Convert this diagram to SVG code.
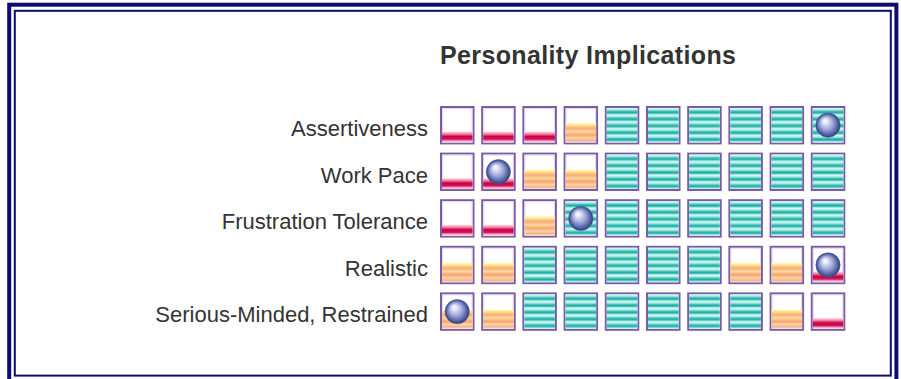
<svg xmlns="http://www.w3.org/2000/svg" xmlns:xlink="http://www.w3.org/1999/xlink" width="901" height="379" viewBox="0 0 901 379">
<style>
.lbl{font-family:"Liberation Sans",Arial,sans-serif;font-size:22px;fill:#333;text-anchor:end}
.ttl{font-family:"Liberation Sans",Arial,sans-serif;font-size:25px;font-weight:bold;fill:#333}
.frm{fill:none;stroke:#0c0c72}
</style>
<defs>
<linearGradient id="gR" x1="0" y1="0" x2="0" y2="1">
<stop offset="0" stop-color="#fde4ea"/><stop offset="0.25" stop-color="#f07898"/><stop offset="0.45" stop-color="#c8004c"/><stop offset="0.7" stop-color="#d01458"/><stop offset="0.85" stop-color="#f4a0b8"/><stop offset="1" stop-color="#fbe0e8"/>
</linearGradient>
<linearGradient id="gO" x1="0" y1="0" x2="0" y2="1">
<stop offset="0" stop-color="#fffad0"/><stop offset="0.1" stop-color="#ffe88a"/><stop offset="0.28" stop-color="#f8ac7c"/><stop offset="0.45" stop-color="#fcd89c"/><stop offset="0.62" stop-color="#f6a474"/><stop offset="0.78" stop-color="#fcd8a0"/><stop offset="0.9" stop-color="#f6b088"/><stop offset="1" stop-color="#f8e4dc"/>
</linearGradient>
<linearGradient id="gTs" x1="0" y1="0" x2="0" y2="1">
<stop offset="0" stop-color="#e6fffb"/><stop offset="0.3" stop-color="#9ae6de"/><stop offset="0.6" stop-color="#10a89e"/><stop offset="0.85" stop-color="#5ccac2"/><stop offset="1" stop-color="#e6fffb"/>
</linearGradient>
<pattern id="pT" patternUnits="userSpaceOnUse" x="0" y="2" width="34" height="6.8">
<rect width="34" height="6.8" fill="url(#gTs)"/>
</pattern>
<radialGradient id="gB" cx="0.5" cy="0.5" r="0.5" fx="0.36" fy="0.3">
<stop offset="0" stop-color="#ffffff"/><stop offset="0.18" stop-color="#e6eaf8"/><stop offset="0.55" stop-color="#9aa4d6"/><stop offset="0.88" stop-color="#4a5898"/><stop offset="1" stop-color="#2e3a78"/>
</radialGradient>
<symbol id="box" overflow="visible">
<rect x="1" y="1" width="32.5" height="36.4" fill="#fff" stroke="#7b5aa8" stroke-width="2"/>
<rect x="2.5" y="2.5" width="29.5" height="33.4" fill="none" stroke="#e2d8f0" stroke-width="1"/>
</symbol>
<symbol id="cR" overflow="visible">
<use xlink:href="#box"/>
<rect x="2" y="25.5" width="30.5" height="11" fill="url(#gR)"/>
</symbol>
<symbol id="cO" overflow="visible">
<use xlink:href="#box"/>
<rect x="2" y="17" width="30.5" height="19.4" fill="url(#gO)"/>
</symbol>
<symbol id="cT" overflow="visible">
<use xlink:href="#box"/>
<rect x="2" y="2" width="30.5" height="34.4" fill="url(#pT)"/>
</symbol>
<symbol id="ball" overflow="visible">
<circle cx="17.2" cy="19.2" r="12.2" fill="url(#gB)" stroke="#3a62b8" stroke-width="0.8" stroke-opacity="0.6"/>
</symbol>
</defs>

<g id="frame">
<rect class="frm" x="9.2" y="4.7" width="887.2" height="390" stroke-width="4"/>
<rect class="frm" x="14.8" y="10.8" width="876" height="364.8" stroke-width="2"/>
</g>

<text id="title" class="ttl" x="440" y="64" textLength="296" lengthAdjust="spacing">Personality Implications</text>

<g id="row-assertiveness" transform="translate(440,106)">
<text class="lbl" x="-12" y="30">Assertiveness</text>
<use xlink:href="#cR" x="0"/><use xlink:href="#cR" x="41.2"/><use xlink:href="#cR" x="82.4"/><use xlink:href="#cO" x="123.6"/><use xlink:href="#cT" x="164.8"/><use xlink:href="#cT" x="206"/><use xlink:href="#cT" x="247.2"/><use xlink:href="#cT" x="288.4"/><use xlink:href="#cT" x="329.6"/><use xlink:href="#cT" x="370.8"/>
<use xlink:href="#ball" x="370.8"/>
</g>

<g id="row-workpace" transform="translate(440,152.6)">
<text class="lbl" x="-12" y="30">Work Pace</text>
<use xlink:href="#cR" x="0"/><use xlink:href="#cR" x="41.2"/><use xlink:href="#cO" x="82.4"/><use xlink:href="#cO" x="123.6"/><use xlink:href="#cT" x="164.8"/><use xlink:href="#cT" x="206"/><use xlink:href="#cT" x="247.2"/><use xlink:href="#cT" x="288.4"/><use xlink:href="#cT" x="329.6"/><use xlink:href="#cT" x="370.8"/>
<use xlink:href="#ball" x="41.2"/>
</g>

<g id="row-frustration" transform="translate(440,199.2)">
<text class="lbl" x="-12" y="30">Frustration Tolerance</text>
<use xlink:href="#cR" x="0"/><use xlink:href="#cR" x="41.2"/><use xlink:href="#cO" x="82.4"/><use xlink:href="#cT" x="123.6"/><use xlink:href="#cT" x="164.8"/><use xlink:href="#cT" x="206"/><use xlink:href="#cT" x="247.2"/><use xlink:href="#cT" x="288.4"/><use xlink:href="#cT" x="329.6"/><use xlink:href="#cT" x="370.8"/>
<use xlink:href="#ball" x="123.6"/>
</g>

<g id="row-realistic" transform="translate(440,245.8)">
<text class="lbl" x="-12" y="30">Realistic</text>
<use xlink:href="#cO" x="0"/><use xlink:href="#cO" x="41.2"/><use xlink:href="#cT" x="82.4"/><use xlink:href="#cT" x="123.6"/><use xlink:href="#cT" x="164.8"/><use xlink:href="#cT" x="206"/><use xlink:href="#cT" x="247.2"/><use xlink:href="#cO" x="288.4"/><use xlink:href="#cO" x="329.6"/><use xlink:href="#cR" x="370.8"/>
<use xlink:href="#ball" x="370.8"/>
</g>

<g id="row-serious" transform="translate(440,292.4)">
<text class="lbl" x="-12" y="30">Serious-Minded, Restrained</text>
<use xlink:href="#cO" x="0"/><use xlink:href="#cO" x="41.2"/><use xlink:href="#cT" x="82.4"/><use xlink:href="#cT" x="123.6"/><use xlink:href="#cT" x="164.8"/><use xlink:href="#cT" x="206"/><use xlink:href="#cT" x="247.2"/><use xlink:href="#cT" x="288.4"/><use xlink:href="#cO" x="329.6"/><use xlink:href="#cR" x="370.8"/>
<use xlink:href="#ball" x="0"/>
</g>
</svg>
